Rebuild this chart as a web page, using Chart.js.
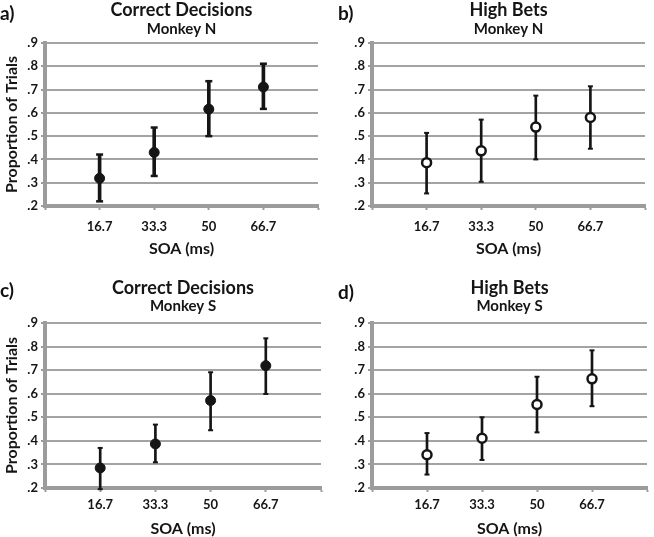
<!DOCTYPE html>
<html>
<head>
<meta charset="utf-8">
<script src="https://cdn.jsdelivr.net/npm/chart.js@4.4.1/dist/chart.umd.min.js"></script>
<style>
  html, body { margin: 0; padding: 0; background: #fff; }
  #wrap { position: relative; width: 654px; height: 537px; overflow: hidden; }
  #wrap canvas { position: absolute; }
  .tag { position: absolute; font: bold 19px Lato, sans-serif; line-height: 1; color: #111; }
</style>
</head>
<body>
<div id="wrap">
  <canvas id="pa" width="327" height="268" style="left:0;top:0"></canvas>
  <canvas id="pb" width="327" height="268" style="left:327px;top:0"></canvas>
  <canvas id="pc" width="327" height="269" style="left:0;top:268px"></canvas>
  <canvas id="pd" width="327" height="269" style="left:327px;top:268px"></canvas>
  <div class="tag" style="left:0;top:3px">a)</div>
  <div class="tag" style="left:338px;top:3px">b)</div>
  <div class="tag" style="left:0;top:280px">c)</div>
  <div class="tag" style="left:338px;top:282px">d)</div>
</div>
<script>
// x categories (SOA, ms) and y tick labels
const soaLabels = ["16.7", "33.3", "50", "66.7"];
const yTickLabels = [".2", ".3", ".4", ".5", ".6", ".7", ".8", ".9"];

// a) correct decisions, monkey N
const correctN = [0.319, 0.43, 0.616, 0.711];
const correctNLo = [0.22, 0.329, 0.50, 0.617];
const correctNHi = [0.421, 0.537, 0.736, 0.811];

// b) high bets, monkey N
const betsN = [0.386, 0.437, 0.539, 0.58];
const betsNLo = [0.254, 0.304, 0.40, 0.446];
const betsNHi = [0.514, 0.571, 0.674, 0.714];

// c) correct decisions, monkey S
const correctS = [0.285, 0.387, 0.571, 0.719];
const correctSLo = [0.195, 0.309, 0.445, 0.599];
const correctSHi = [0.37, 0.469, 0.691, 0.835];

// d) high bets, monkey S
const betsS = [0.341, 0.411, 0.554, 0.663];
const betsSLo = [0.257, 0.319, 0.436, 0.547];
const betsSHi = [0.433, 0.50, 0.672, 0.784];

const FONT = "Lato, 'Open Sans', sans-serif";
const GRID = "#a3a3a3";
const AXIS = "#9c9c9c";
const INK = "#151515";

function pts(vals) {
  return vals.map((v, i) => ({ x: i + 1, y: v }));
}

function makePanel(id, p) {
  const canvas = document.getElementById(id);
  const h = canvas.height;
  return new Chart(canvas, {
    type: "scatter",
    data: {
      datasets: [
        {
          type: "bar",
          data: p.lo.map((v, i) => ({ x: i + 1, y: [v, p.hi[i]] })),
          backgroundColor: INK,
          borderWidth: 0,
          barThickness: p.barW,
          clip: false,
          order: 3
        },
        {
          data: pts(p.lo),
          pointStyle: "line",
          radius: p.capR,
          borderColor: INK,
          borderWidth: p.capW,
          clip: false,
          order: 2
        },
        {
          data: pts(p.hi),
          pointStyle: "line",
          radius: p.capR,
          borderColor: INK,
          borderWidth: p.capW,
          clip: false,
          order: 2
        },
        {
          data: pts(p.mean),
          pointStyle: "circle",
          radius: p.filled ? 5 : 4.5,
          backgroundColor: p.filled ? INK : "#fff",
          borderColor: INK,
          borderWidth: p.filled ? 1 : 2.5,
          clip: false,
          order: 0
        }
      ]
    },
    options: {
      responsive: false,
      animation: false,
      events: [],
      layout: { padding: { top: p.padTop, right: 2, bottom: 0, left: 0 } },
      plugins: {
        legend: { display: false },
        tooltip: { enabled: false },
        title: {
          display: true, text: p.title, fullSize: false, color: INK,
          font: { family: FONT, size: 18, weight: "bold", lineHeight: 1.1 },
          padding: { top: 0, bottom: p.titleGap }
        },
        subtitle: {
          display: true, text: p.subtitle, fullSize: false, color: INK,
          font: { family: FONT, size: 15, weight: "bold", lineHeight: 1.1 },
          padding: { top: 0, bottom: p.subBottom }
        }
      },
      scales: {
        x: {
          type: "linear", min: 0, max: 5, offset: false,
          afterFit: s => { s.height = h - p.bottom; },
          ticks: {
            stepSize: 1, autoSkip: false, maxRotation: 0, padding: p.xTickPad, color: INK,
            font: { family: FONT, size: 13, weight: "bold" },
            callback: v => soaLabels[v - 1] ?? ""
          },
          grid: { drawOnChartArea: false, offset: false, drawTicks: true, tickLength: 4, tickColor: AXIS, tickWidth: 2 },
          border: { display: true, color: AXIS, width: 4 },
          title: {
            display: true, text: "SOA (ms)", color: INK,
            font: { family: FONT, size: 16, weight: "bold", lineHeight: 1.0 },
            padding: { top: 0, bottom: p.xTitlePad }
          }
        },
        y: {
          type: "linear", min: 0.2, max: 0.9,
          afterFit: s => { s.width = 45; },
          ticks: {
            stepSize: 0.1, padding: 3, color: INK,
            font: { family: FONT, size: 13, weight: "bold" },
            callback: (v, i) => yTickLabels[i]
          },
          grid: { color: GRID, lineWidth: 2, drawTicks: true, tickLength: 4, tickColor: AXIS, tickWidth: 2 },
          border: { display: true, color: AXIS, width: 4 },
          title: {
            display: p.yTitle, text: "Proportion of Trials", color: INK,
            font: { family: FONT, size: 16, weight: "bold", lineHeight: 1.2 },
            padding: { top: 2, bottom: 0 }
          }
        }
      }
    }
  });
}

const topLayout = { padTop: 0, titleGap: 1, subBottom: 5.7, bottom: 206, xTickPad: 9, xTitlePad: 11 };
const botLayout = { padTop: 10, titleGap: 0, subBottom: 8.7, bottom: 220, xTickPad: 5, xTitlePad: 0 };

makePanel("pa", Object.assign({}, topLayout, {
  title: "Correct Decisions", subtitle: "Monkey N", yTitle: true, filled: true,
  mean: correctN, lo: correctNLo, hi: correctNHi, barW: 3, capR: 3.5, capW: 2.5
}));
makePanel("pb", Object.assign({}, topLayout, {
  title: "High Bets", subtitle: "Monkey N", yTitle: false, filled: false,
  mean: betsN, lo: betsNLo, hi: betsNHi, barW: 2, capR: 2.5, capW: 2
}));
makePanel("pc", Object.assign({}, botLayout, {
  title: "Correct Decisions", subtitle: "Monkey S", yTitle: true, filled: true,
  mean: correctS, lo: correctSLo, hi: correctSHi, barW: 2, capR: 2.5, capW: 2
}));
makePanel("pd", Object.assign({}, botLayout, {
  title: "High Bets", subtitle: "Monkey S", yTitle: false, filled: false,
  mean: betsS, lo: betsSLo, hi: betsSHi, barW: 2, capR: 2.5, capW: 2
}));
</script>
</body>
</html>
